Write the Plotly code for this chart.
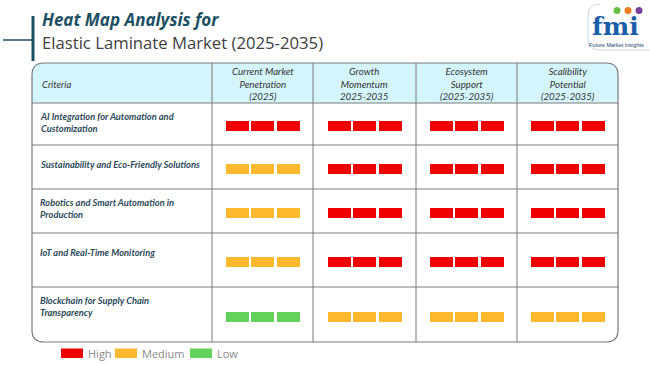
import plotly.graph_objects as go

# ---------------- data ----------------
criteria = [
    "AI Integration for Automation and<br>Customization",
    "Sustainability and Eco-Friendly Solutions",
    "Robotics and Smart Automation in<br>Production",
    "IoT and Real-Time Monitoring",
    "Blockchain for Supply Chain<br>Transparency",
]
columns = [
    "Current Market<br>Penetration<br>(2025)",
    "Growth<br>Momentum<br>2025-2035",
    "Ecosystem<br>Support<br>(2025-2035)",
    "Scalibility<br>Potential<br>(2025-2035)",
]
levels = [
    ["High", "High", "High", "High"],
    ["Medium", "High", "High", "High"],
    ["Medium", "High", "High", "High"],
    ["Medium", "High", "High", "High"],
    ["Low", "Medium", "Medium", "Medium"],
]
level_names = ["High", "Medium", "Low"]
level_colors = {"High": "#ee0000", "Medium": "#fdb92e", "Low": "#62d25b"}

# ---------------- layout geometry ----------------
W, H = 650, 365
col_edges = [32, 212, 313, 416, 517, 618]
row_edges = [63, 103, 145, 189, 233, 287, 342]
R = 12
border = "#7a7a7a"
text_col = "#2c4a5a"
FONT_LBL = "Lato"

fig = go.Figure()

# bars: three blocks per cell, drawn as bar traces through axis scale
bar_w, bar_h, bar_step = 23, 10, 25.5
for lvl in level_names:
    xs, bases = [], []
    for i, row in enumerate(levels):
        top, bot = row_edges[i + 1], row_edges[i + 2]
        yc = (top + bot) / 2 + 2
        for j, v in enumerate(row):
            if v != lvl:
                continue
            xc = (col_edges[j + 1] + col_edges[j + 2]) / 2
            for k in (-1, 0, 1):
                xs.append(xc + k * bar_step)
                bases.append(yc - bar_h / 2)
    fig.add_trace(go.Bar(
        x=xs, y=[bar_h] * len(xs), base=bases, width=bar_w,
        marker=dict(color=level_colors[lvl], line=dict(width=0)),
        name=lvl, showlegend=False, hoverinfo="skip",
    ))

shapes = []
L, T, Rr, B = col_edges[0], row_edges[0], col_edges[-1], row_edges[-1]
hb = row_edges[1]
# header fill with rounded top corners
shapes.append(dict(
    type="path", layer="below",
    path=(f"M {L},{hb} L {L},{T+R} Q {L},{T} {L+R},{T} L {Rr-R},{T} "
          f"Q {Rr},{T} {Rr},{T+R} L {Rr},{hb} Z"),
    fillcolor="#d5f5fc", line=dict(width=0), xref="x", yref="y"))
# outer rounded frame
shapes.append(dict(
    type="path",
    path=(f"M {L+R},{T} L {Rr-R},{T} Q {Rr},{T} {Rr},{T+R} L {Rr},{B-R} "
          f"Q {Rr},{B} {Rr-R},{B} L {L+R},{B} Q {L},{B} {L},{B-R} "
          f"L {L},{T+R} Q {L},{T} {L+R},{T} Z"),
    line=dict(color=border, width=1.2), xref="x", yref="y"))
# horizontal row lines
for y in row_edges[1:-1]:
    shapes.append(dict(type="line", x0=L, x1=Rr, y0=y, y1=y,
                       line=dict(color=border, width=1), xref="x", yref="y"))
# vertical column lines
for x in col_edges[1:-1]:
    shapes.append(dict(type="line", x0=x, x1=x, y0=T, y1=B,
                       line=dict(color=border, width=1), xref="x", yref="y"))

# title decoration lines
shapes.append(dict(type="line", x0=33, x1=33, y0=16, y1=61,
                   line=dict(color="#1d4f63", width=3), xref="x", yref="y"))
shapes.append(dict(type="line", x0=3, x1=33, y0=40, y1=40,
                   line=dict(color="#1d4f63", width=1.5), xref="x", yref="y"))

# logo frame
shapes.append(dict(type="path",
                   path="M 600,4 Q 588,4 588,16 L 588,40 Q 588,50 600,50 L 650,50",
                   line=dict(color="#cfd8e0", width=1), xref="x", yref="y"))
for cx, col in [(617, "#6cc04a"), (628, "#f07c22"), (639, "#7a3f98")]:
    shapes.append(dict(type="circle", x0=cx - 3.5, x1=cx + 3.5, y0=7, y1=14,
                       fillcolor=col, line=dict(width=0), xref="x", yref="y"))

annotations = []
# title
annotations.append(dict(x=40, y=19, text="<b><i>Heat Map Analysis for</i></b>",
                        showarrow=False, xanchor="left", yanchor="middle",
                        font=dict(family="Open Sans", size=17, color="#1d4f63")))
annotations.append(dict(x=40, y=42, text="Elastic Laminate Market (2025-2035)",
                        showarrow=False, xanchor="left", yanchor="middle",
                        font=dict(family="Open Sans", size=16.7, color="#404040")))
# logo text
annotations.append(dict(x=615, y=26, text="<b>fmi</b>", showarrow=False,
                        xanchor="center", yanchor="middle",
                        font=dict(family="DejaVu Serif", size=25, color="#1b5ea8")))
annotations.append(dict(x=616, y=44.5, text="Future Market Insights", showarrow=False,
                        xanchor="center", yanchor="middle",
                        font=dict(family="Liberation Sans", size=5.5, color="#1b3f6b")))

# header
hc = (row_edges[0] + row_edges[1]) / 2
annotations.append(dict(x=40, y=hc + 1, text="<i>Criteria</i>", showarrow=False,
                        xanchor="left", yanchor="middle",
                        font=dict(family=FONT_LBL, size=9.5, color="#333333")))
for j, c in enumerate(columns):
    xc = (col_edges[j + 1] + col_edges[j + 2]) / 2
    annotations.append(dict(x=xc, y=hc, text=f"<i>{c}</i>", showarrow=False,
                            xanchor="center", yanchor="middle", align="center",
                            font=dict(family=FONT_LBL, size=9.7, color="#333333")))
# row labels
for i, c in enumerate(criteria):
    top = row_edges[i + 1]
    annotations.append(dict(x=38, y=top + 19.5, text=f"<b><i>{c}</i></b>",
                            showarrow=False, xanchor="left", yanchor="middle",
                            align="left",
                            font=dict(family=FONT_LBL, size=9.3, color=text_col)))

# legend
lx = [61, 115, 190]
for x0, lvl in zip(lx, level_names):
    shapes.append(dict(type="rect", x0=x0, x1=x0 + 22, y0=348.5, y1=358,
                       fillcolor=level_colors[lvl], line=dict(width=0),
                       xref="x", yref="y"))
    annotations.append(dict(x=x0 + 25, y=353.5, text=lvl, showarrow=False,
                            xanchor="left", yanchor="middle",
                            font=dict(family="Open Sans", size=11, color="#8a8a8a")))

fig.update_layout(
    width=W, height=H, margin=dict(l=0, r=0, t=0, b=0),
    paper_bgcolor="white", plot_bgcolor="white",
    xaxis=dict(range=[0, W], visible=False, fixedrange=True),
    yaxis=dict(range=[H, 0], visible=False, fixedrange=True),
    shapes=shapes, annotations=annotations, bargap=0, barmode="overlay",
)

fig.write_html(
    "out.html",
    config={"displayModeBar": False},
    post_script="document.body.style.margin='0';document.body.style.overflow='hidden';",
)
